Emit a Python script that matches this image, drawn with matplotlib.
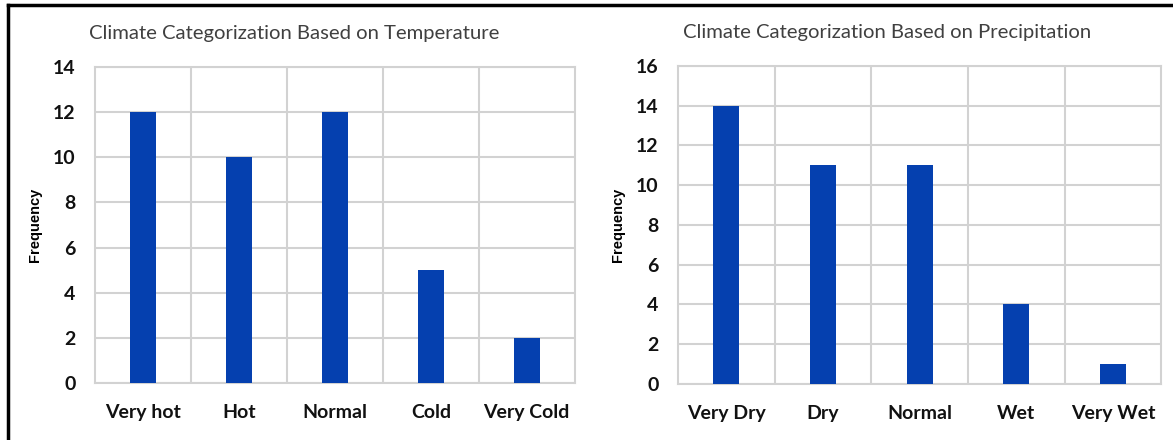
import numpy as np
import matplotlib.pyplot as plt
from matplotlib.lines import Line2D

temp_cats = ['Very hot', 'Hot', 'Normal', 'Cold', 'Very Cold']
temp_freq = [12, 10, 12, 5, 2]
prec_cats = ['Very Dry', 'Dry', 'Normal', 'Wet', 'Very Wet']
prec_freq = [14, 11, 11, 4, 1]

bar_color = '#0540AF'
grid_color = '#d2d2d2'
plt.rcParams['font.family'] = ['Lato', 'DejaVu Sans']

fig = plt.figure(figsize=(11.73, 4.4), dpi=100)
ax1 = fig.add_axes([0.081, 0.1295, 0.409, 0.718])
ax2 = fig.add_axes([0.578, 0.1273, 0.412, 0.7227])


def draw(ax, cats, freq, ymax, title, title_x):
    x = np.arange(len(cats))
    ax.bar(x, freq, width=0.27, color=bar_color, zorder=3)
    ax.set_xlim(-0.5, len(cats) - 0.5)
    ax.set_ylim(0, ymax)
    ax.set_yticks(np.arange(0, ymax + 1, 2))
    ax.set_xticks(x)
    ax.set_xticklabels(cats)
    ax.set_xticks(np.arange(0.5, len(cats) - 0.5, 1), minor=True)
    ax.grid(axis='y', color=grid_color, linewidth=1.5, zorder=0)
    ax.grid(axis='x', which='minor', color=grid_color, linewidth=1.5, zorder=0)
    ax.tick_params(which='both', length=0)
    ax.tick_params(axis='y', pad=14)
    ax.tick_params(axis='x', pad=15)
    for lab in ax.get_xticklabels() + ax.get_yticklabels():
        lab.set_fontsize(14)
        lab.set_fontweight('bold')
        lab.set_color('#111111')
    for sp in ax.spines.values():
        sp.set_color(grid_color)
        sp.set_linewidth(1.5)
    ax.set_ylabel('Frequency', fontsize=10.5, fontweight='bold', labelpad=8,
                  family='Liberation Sans')
    ax.set_title(title, fontsize=14.6, color='#404040', pad=20, x=title_x)


draw(ax1, temp_cats, temp_freq, 14, 'Climate Categorization Based on Temperature', 0.415)
draw(ax2, prec_cats, prec_freq, 16, 'Climate Categorization Based on Precipitation', 0.433)

# outer frame (top and left edges)
fig.add_artist(Line2D([0.0068, 1.0], [0.9886, 0.9886], color='black', linewidth=2.5,
                      transform=fig.transFigure))
fig.add_artist(Line2D([0.0068, 0.0068], [0.0, 0.9886], color='black', linewidth=2.5,
                      transform=fig.transFigure))

fig.savefig('out.png', dpi=100)
